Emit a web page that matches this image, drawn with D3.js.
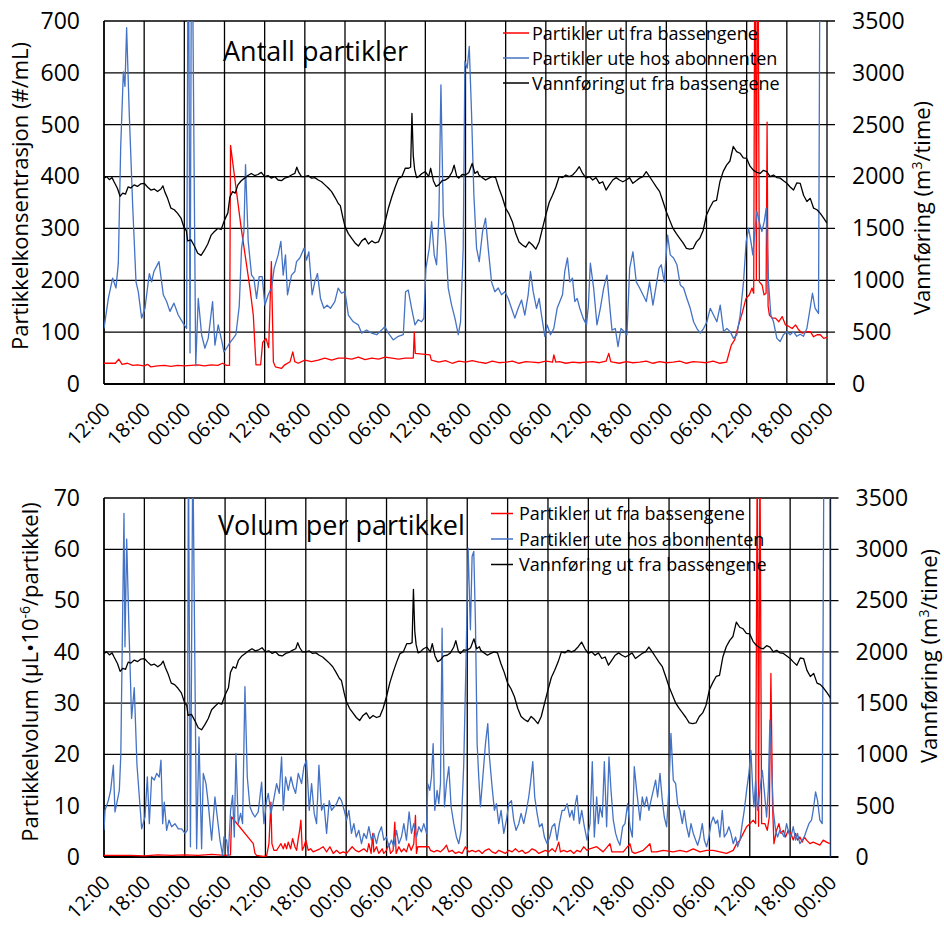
<!DOCTYPE html>
<html>
<head>
<meta charset="utf-8">
<script src="https://cdn.jsdelivr.net/npm/d3@7"></script>
<style>
  body { margin: 0; background: #fff; }
  svg { display: block; font-family: "Open Sans", sans-serif; }
</style>
</head>
<body>
<svg id="chart" width="944" height="927"></svg>
<script>
// ---- data (hours since first 12:00, value) ----
const hourTicks = d3.range(0, 109, 6);
const tickLabels = ["12:00","18:00","00:00","06:00","12:00","18:00","00:00","06:00","12:00","18:00",
                    "00:00","06:00","12:00","18:00","00:00","06:00","12:00","18:00","00:00"];
const countTicks = d3.range(0, 701, 100);
const volumeTicks = d3.range(0, 71, 10);
const flowTicks = d3.range(0, 3501, 500);

const seriesNames = ["Partikler ut fra bassengene", "Partikler ute hos abonnenten", "Vannføring ut fra bassengene"];

// Vannføring ut fra bassengene (m3/time), same in both panels
const flow = [[0,1985],[0.4,2000],[0.8,1970],[1.2,1990],[1.5,1950],[2,1887],[2.4,1810],[2.8,1840],[3.2,1830],
  [3.6,1900],[4,1890],[4.5,1920],[5,1905],[5.5,1930],[6,1935],[6.5,1900],[7,1870],[7.5,1880],[8,1855],[8.5,1880],
  [8.8,1910],[9.1,1850],[9.5,1790],[10,1695],[10.5,1680],[11,1645],[11.5,1600],[12,1500],[12.3,1480],[12.5,1380],
  [13,1390],[13.5,1330],[14,1260],[14.5,1240],[15,1290],[15.5,1350],[16,1435],[16.5,1470],[17,1500],[17.5,1490],
  [18,1580],[18.5,1650],[18.8,1800],[19.2,1855],[19.6,1840],[20,1920],[20.5,1960],[21,1985],[21.5,2010],[22,2030],
  [22.5,2010],[23,2020],[23.5,2040],[24,2000],[24.5,2010],[25,1985],[25.5,2000],[26,1967],[26.5,1960],[27,1985],
  [27.5,1995],[28,2015],[28.5,2030],[28.8,2090],[29.1,2040],[29.5,2000],[30,2000],[30.5,2010],[31,1985],[31.5,1990],
  [32,1967],[32.5,1950],[33,1920],[33.5,1890],[34,1855],[34.5,1800],[35,1740],[35.3,1720],[35.7,1600],[36,1520],
  [36.5,1450],[37,1405],[37.5,1360],[38,1330],[38.5,1380],[39,1405],[39.5,1350],[40,1380],[40.5,1360],[41,1370],
  [41.5,1450],[42,1565],[42.5,1700],[43,1805],[43.5,1900],[44,1983],[44.5,2000],[45,2080],[45.5,2080],[45.8,2090],
  [46,2610],[46.2,2200],[46.4,2070],[46.7,1990],[47,2000],[47.5,2030],[48,2047],[48.5,2000],[48.8,2080],[49.2,1960],
  [49.6,1905],[50,1920],[50.5,1960],[51,1967],[51.5,1990],[52,2047],[52.3,2110],[52.7,2000],[53,1985],[53.5,2020],
  [54,2015],[54.5,2040],[55,2127],[55.4,2030],[55.8,2050],[56,2015],[56.5,1990],[57,1967],[57.5,1985],[58,2000],
  [58.5,1990],[59,1887],[59.5,1800],[60,1695],[60.5,1640],[61,1565],[61.5,1450],[62,1370],[62.5,1340],[63,1320],
  [63.5,1370],[64,1340],[64.5,1300],[65,1370],[65.5,1500],[66,1630],[66.5,1750],[67,1820],[67.5,1900],[68,2000],
  [68.5,1990],[69,2015],[69.5,2000],[70,2015],[70.5,2050],[71,2095],[71.5,2030],[72,1985],[72.5,2000],[73,1967],
  [73.5,1990],[74,1935],[74.5,1950],[75,1870],[75.5,1920],[76,1967],[76.5,1990],[77,1967],[77.5,1950],[78,1967],
  [78.5,1990],[79,1935],[79.5,1960],[80,1985],[80.5,2000],[81,2047],[81.5,2000],[82,1950],[82.5,1900],[83,1855],
  [83.5,1760],[84,1660],[84.5,1580],[85,1500],[85.5,1450],[86,1405],[86.5,1360],[87,1307],[87.5,1300],[88,1307],
  [88.5,1370],[89,1405],[89.5,1480],[90,1630],[90.5,1700],[91,1760],[91.5,1770],[92,1950],[92.5,2050],[93,2110],
  [93.5,2150],[94,2290],[94.5,2240],[95,2225],[95.5,2180],[96,2175],[96.5,2100],[97,2062],[97.5,2040],[98,2030],
  [98.5,2060],[99,2047],[99.5,2000],[100,2015],[100.5,1990],[101,1985],[101.5,1960],[102,1935],[102.5,1900],
  [103,1870],[103.5,1940],[104,1935],[104.5,1820],[105,1760],[105.5,1790],[106,1695],[106.5,1680],[107,1645],
  [107.5,1600],[108,1550]];

// Antall partikler (#/mL) ut fra bassengene
const countOut = [[0,40],[1,40],[1.7,40],[2.2,48],[2.7,38],[3.5,40],[4.3,36],[5,37],[6,35],[6.5,38],[7,33],[8,35],
  [9,36],[10,34],[11,36],[12,35],[13,36],[14,37],[15,35],[16,37],[17,36],[17.7,40],[18.3,36],[18.75,36],[18.9,460],
  [20.5,300],[21.8,185],[22.3,133],[22.7,37],[23.4,37],[23.7,80],[24.2,88],[24.6,70],[25.0,236],[25.3,43],[25.6,33],
  [26.5,30],[27,37],[27.8,43],[28.2,62],[28.5,43],[29,40],[30,46],[31,43],[32,46],[33,50],[34,46],[35,50],[36,50],
  [37,48],[38,52],[39,47],[40,50],[41,48],[42,52],[43,50],[44,48],[45,50],[46.2,50],[46.35,100],[46.5,59],[48.7,56],
  [48.9,46],[50,42],[51,45],[52,40],[53,44],[54,42],[55,45],[56,42],[57,40],[58,44],[59,41],[60,42],[61,44],[62,40],
  [63,43],[64,42],[65,41],[66,44],[67,42],[67.2,56],[67.5,42],[68,43],[69,40],[70,42],[71,41],[72,42],[73,43],[74,41],
  [75,44],[75.4,59],[75.7,43],[76,42],[77,40],[78,43],[79,41],[80,42],[81,44],[82,40],[83,43],[84,41],[85,42],[86,44],
  [87,40],[88,43],[89,42],[90,41],[91,44],[92,40],[93,42],[93.7,75],[94.2,85],[94.8,114],[95.4,140],[95.9,165],
  [96.4,172],[96.8,185],[97.05,175],[97.25,1000],[97.45,200],[97.65,1000],[97.9,197],[98.3,191],[98.6,172],[98.9,175],
  [99.05,505],[99.2,150],[99.4,133],[99.8,127],[100.3,127],[100.8,120],[101.3,130],[101.8,114],[102.3,111],[102.8,107],
  [103.3,114],[103.8,104],[104.3,98],[105,101],[105.5,101],[106,91],[106.5,95],[107,95],[107.5,88],[108,90]];

// Antall partikler (#/mL) ute hos abonnenten
const countSub = [[0,107],[0.65,165],[1.29,204],[1.79,185],[2.14,233],[2.49,455],[2.89,602],[3.13,574],[3.38,687],
  [3.78,519],[4.28,345],[4.78,197],[5.12,178],[5.62,127],[6.12,146],[6.77,213],[7.11,197],[7.46,217],[8.21,236],
  [8.86,172],[9.35,159],[9.85,140],[10.45,156],[11.09,133],[11.84,117],[12.34,107],[12.6,1000],[12.85,60],[13.1,1000],
  [13.7,35],[14.08,165],[14.58,95],[15.07,69],[15.57,88],[16.22,159],[16.57,75],[17.06,114],[17.56,85],[17.91,62],
  [18.31,69],[18.71,78],[19.3,88],[19.7,95],[20.2,150],[20.55,262],[20.9,294],[21.14,423],[21.54,275],[22.04,210],
  [22.39,204],[22.79,165],[23.18,207],[23.63,207],[24.03,152],[24.53,172],[25.02,185],[25.42,223],[26.02,249],
  [26.42,275],[26.77,210],[27.11,249],[27.41,172],[28.01,210],[28.51,217],[28.76,236],[29.25,243],[29.9,262],
  [30.25,239],[30.6,255],[31.09,172],[31.49,197],[31.89,213],[32.34,165],[32.84,146],[33.33,152],[33.83,146],
  [34.48,159],[34.98,185],[35.47,175],[36.0,178],[36.5,133],[37.24,120],[37.99,114],[38.49,98],[39.23,104],[39.98,98],
  [40.73,95],[41.47,104],[41.97,111],[42.47,98],[43.21,85],[43.96,92],[44.71,95],[45.05,178],[45.45,181],[45.95,146],
  [46.45,114],[46.94,124],[47.44,120],[47.79,127],[48.09,223],[48.59,262],[48.94,313],[49.33,249],[49.68,230],
  [50.03,326],[50.33,577],[50.68,326],[51.07,268],[51.42,185],[51.92,152],[52.42,127],[52.92,95],[53.26,120],
  [53.66,262],[53.91,622],[54.26,609],[54.56,651],[54.91,519],[55.25,365],[55.65,262],[56.05,236],[56.55,294],
  [56.99,320],[57.39,262],[57.89,197],[58.39,178],[58.89,185],[59.38,172],[59.88,178],[60.38,165],[60.87,146],
  [61.37,127],[61.87,146],[62.37,162],[62.86,133],[63.36,172],[63.71,217],[64.11,178],[64.61,146],[65.0,165],
  [65.35,133],[65.85,92],[66.2,114],[66.7,95],[67.19,107],[67.69,146],[68.09,159],[68.49,172],[68.83,217],[69.23,243],
  [69.58,197],[69.98,204],[70.33,159],[70.68,165],[71.07,146],[71.57,127],[72.07,114],[72.35,150],[72.65,233],
  [73.14,185],[73.64,114],[74.14,146],[74.64,185],[75.13,210],[75.53,152],[75.88,104],[76.38,107],[76.78,72],
  [77.22,107],[77.72,101],[78.12,95],[78.52,223],[79.01,255],[79.51,197],[80.01,185],[80.51,172],[81.0,159],[81.5,197],
  [82.0,152],[82.5,191],[82.9,223],[83.24,230],[83.69,197],[84.19,287],[84.59,249],[85.08,243],[85.58,230],[86.08,191],
  [86.58,185],[87.07,165],[87.57,146],[88.07,120],[88.57,107],[89.06,98],[89.56,107],[90.06,120],[90.56,146],
  [91.05,133],[91.55,120],[92.05,152],[92.55,101],[93.04,107],[93.54,101],[94.04,88],[94.54,95],[95.03,133],
  [95.53,197],[95.93,275],[96.28,300],[96.63,275],[96.92,249],[97.27,300],[97.52,333],[97.87,313],[98.27,294],
  [98.62,313],[98.92,339],[99.26,197],[99.61,133],[100.01,120],[100.51,88],[101.0,82],[101.5,95],[102.0,101],
  [102.5,95],[102.99,101],[103.49,92],[103.99,96],[104.49,92],[104.99,107],[105.48,146],[105.83,175],[106.23,146],
  [106.73,136],[107.0,1000],[107.85,1000],[108,1000]];

// Volum per partikkel (µL·10^-6/partikkel) ut fra bassengene
const volumeOut = [[0,0.3],[2,0.3],[4,0.3],[6,0.2],[8,0.4],[10,0.3],[12,0.4],[14,0.3],[16,0.5],[18,0.3],[18.8,0.4],
  [18.97,7.8],[22.19,2.6],[22.44,0.7],[22.68,0.3],[23.67,0.1],[24.17,0.2],[24.52,2.6],[24.81,10.7],[24.96,2.6],
  [25.26,1.3],[25.66,1.3],[26.0,2.0],[26.3,2.6],[26.65,1.6],[26.89,2.6],[27.14,1.6],[27.39,2.9],[27.74,1.6],[28.03,3.6],
  [28.38,2.0],[28.63,1.3],[28.88,3.6],[29.12,5.5],[29.27,7.2],[29.47,1.3],[29.72,2.0],[30.01,3.3],[30.36,1.3],
  [30.71,1.6],[31.1,1.0],[31.6,1.3],[32.1,1.6],[32.59,2.0],[33.09,1.0],[33.58,2.0],[34.08,0.7],[34.57,1.3],[35.07,0.7],
  [35.56,1.0],[36.06,0.7],[36.89,2.0],[37.39,1.3],[37.88,1.0],[38.63,1.6],[39.12,1.0],[39.37,2.6],[39.71,0.7],
  [39.96,4.6],[40.11,1.0],[40.51,2.0],[40.85,0.7],[41.35,1.6],[41.6,0.7],[41.99,1.3],[42.34,2.6],[42.59,0.7],
  [42.98,1.3],[43.23,6.8],[43.43,0.7],[43.83,2.0],[44.22,1.0],[44.57,1.6],[44.96,1.0],[45.31,2.6],[45.66,1.3],
  [46.05,2.6],[46.3,8.1],[46.45,0.7],[46.65,2.0],[48.28,2.0],[48.53,1.3],[49.03,1.0],[49.52,1.3],[50.02,1.0],
  [50.51,1.6],[50.91,2.3],[51.26,1.0],[51.75,1.3],[52.25,0.7],[52.74,1.0],[53.24,0.7],[53.73,2.0],[54.23,1.0],
  [54.72,1.3],[55.22,1.0],[55.71,1.3],[56.21,0.7],[56.7,1.3],[57.2,1.6],[57.69,1.0],[58.19,0.7],[58.68,1.3],
  [59.18,1.0],[59.67,0.7],[60.17,1.3],[60.67,1.0],[61.16,1.6],[61.66,1.0],[62.15,1.3],[62.65,0.7],[63.14,1.0],
  [63.64,1.6],[64.13,1.3],[64.63,0.7],[65.12,1.0],[65.62,1.3],[66.11,1.0],[66.61,1.6],[67.1,1.0],[67.6,2.9],
  [67.85,1.0],[68.34,1.3],[68.84,1.0],[69.33,1.3],[69.83,0.7],[70.32,1.3],[70.82,1.0],[71.31,2.0],[71.81,1.3],
  [72.21,1.6],[73.24,2.0],[74.2,1.0],[75.22,2.6],[75.5,1.0],[76.21,1.0],[77.2,1.0],[78.19,2.6],[78.5,1.0],[78.93,0.7],
  [80.17,1.3],[81.16,2.6],[81.4,1.0],[82.15,1.0],[83.14,1.3],[84.63,1.0],[85.62,1.3],[86.61,1.0],[87.6,1.6],
  [88.59,1.0],[89.58,1.3],[90.57,1.3],[91.56,1.0],[92.55,0.7],[93.54,1.3],[94.04,2.6],[94.54,3.3],[95.03,4.6],
  [95.53,5.9],[96.02,6.5],[96.52,7.2],[96.87,6.5],[97.11,80],[97.31,6.0],[97.51,80],[97.76,6.5],[98.25,6.5],
  [98.6,5.2],[98.9,7.8],[99.14,35.8],[99.39,9.8],[99.59,2.6],[99.98,5.2],[100.33,6.5],[100.63,4.6],[100.98,5.2],
  [101.32,3.9],[101.72,5.2],[102.11,4.6],[102.46,3.3],[102.81,4.6],[103.1,3.3],[103.45,3.9],[103.8,2.9],[104.1,3.9],
  [104.44,3.3],[104.94,2.6],[105.43,2.9],[105.93,2.6],[106.42,2.3],[106.92,3.3],[107.41,2.9],[107.91,2.6]];

// Volum per partikkel ute hos abonnenten
const volumeSub = [[0,5.2],[0.15,9.1],[0.64,11],[0.99,13],[1.39,17.9],[1.63,8.8],[1.98,11],[2.28,13],[2.5,20],
  [2.97,67],[3.12,41],[3.37,62],[3.7,45],[4.1,27],[4.5,33],[4.9,18],[5.35,10],[5.6,5.5],[6.09,7.8],[6.44,15.6],
  [6.74,6.5],[7.08,15.6],[7.48,15],[7.83,16.3],[8.22,15.6],[8.47,18.9],[8.72,6.5],[8.96,10.7],[9.31,5.2],[9.66,7.2],
  [10.05,5.9],[10.55,6.5],[11.04,5.5],[11.54,5.5],[12.04,4.6],[12.38,5.2],[12.55,80],[12.85,2],[13.2,80],[13.77,1.6],
  [14.12,23.4],[14.51,1.6],[14.76,16.3],[15.16,14.3],[15.5,10.4],[16.0,3.3],[16.49,11.7],[16.84,7.8],[17.24,3.3],
  [17.63,0.3],[17.83,3.9],[18.23,3.3],[18.47,0.2],[18.82,9.1],[19.12,12],[19.37,3.9],[19.61,20.2],[19.96,6.5],
  [20.31,8.5],[20.6,6.5],[20.95,33.2],[21.3,15.6],[21.69,9.8],[22.09,8.5],[22.44,7.8],[22.93,8.8],[23.43,14.6],
  [23.77,6.5],[24.17,11],[24.42,12.4],[24.81,8.5],[25.16,10.7],[25.66,14.3],[26.05,12.4],[26.4,19.5],[26.65,9.1],
  [26.99,15.6],[27.39,13],[27.79,15.6],[28.13,13.7],[28.48,12.4],[28.88,16.3],[29.37,14.3],[29.72,17.6],[30.11,18.9],
  [30.51,9.1],[30.86,14.3],[31.25,8.5],[31.6,6.5],[31.95,17.9],[32.34,9.1],[32.69,10.4],[33.09,4.6],[33.48,11],
  [33.83,9.1],[34.23,9.8],[34.57,10.4],[34.97,11.7],[35.31,11],[35.71,9.1],[36.06,7.2],[36.4,9.1],[36.79,4.6],
  [37.14,6.5],[37.49,3.9],[37.88,5.2],[38.28,2.6],[38.63,4.6],[39.02,3.6],[39.37,5.9],[39.76,3.3],[40.11,4.6],
  [40.51,2.6],[40.85,4.6],[41.25,5.9],[41.6,3.3],[41.99,3.9],[42.34,2],[42.74,3.3],[43.08,2],[43.48,5.2],[43.83,2.6],
  [44.22,3.9],[44.57,6.5],[44.96,3.3],[45.36,8.8],[45.71,4.6],[46.05,6.5],[46.45,3.9],[46.8,5.9],[47.19,4.9],
  [47.54,6.5],[47.94,4.6],[48.13,14.3],[48.43,13],[48.68,15.6],[48.93,22.1],[49.17,9.1],[49.52,13],[49.77,10.4],
  [50.02,14.3],[50.26,44.6],[50.41,26],[50.61,9.8],[50.91,14.3],[51.26,17.6],[51.6,9.8],[52.0,6.5],[52.39,3.9],
  [52.74,2.6],[53.09,5.2],[53.48,18.2],[53.83,39],[54.13,60.2],[54.47,44.3],[54.72,58.6],[54.97,59.6],[55.22,45.6],
  [55.47,22.1],[55.71,15.6],[55.96,9.8],[56.36,16.3],[56.71,22.1],[57.05,26],[57.3,19.5],[57.69,13.7],[58.04,9.1],
  [58.34,10.4],[58.68,6.5],[59.03,9.1],[59.43,4.6],[59.82,7.2],[60.17,10.4],[60.57,11],[60.91,7.2],[61.26,5.2],
  [61.66,6.5],[62.0,8.5],[62.4,6.5],[62.8,9.1],[63.14,11.7],[63.39,14.3],[63.74,18.6],[64.03,11.7],[64.38,8.5],
  [64.73,5.9],[65.12,6.5],[65.47,3.9],[65.87,2.6],[66.26,3.9],[66.61,5.9],[67.0,6.5],[67.35,3.3],[67.7,6.5],[68.1,9.1],
  [68.44,9.1],[68.84,10.4],[69.23,7.8],[69.58,9.1],[69.83,7.2],[70.08,10.4],[70.32,12],[70.67,6.5],[71.02,9.1],
  [71.41,5.9],[71.81,3.3],[72.25,6.5],[72.59,18.6],[72.89,3.9],[73.24,11.7],[73.49,6.5],[73.73,9.8],[74.08,7.8],
  [74.38,18.6],[74.72,5.9],[75.07,19.5],[75.37,13],[75.71,7.2],[76.06,4.6],[76.36,3.3],[76.71,2.3],[77.1,5.9],
  [77.45,6.5],[77.84,10.4],[78.19,5.9],[78.54,3.9],[78.83,17.6],[79.18,13],[79.68,7.2],[80.02,11.7],[80.32,9.8],
  [80.67,11.7],[81.01,9.1],[81.31,11],[81.66,13],[82.0,15],[82.3,11.7],[82.65,16.3],[83.0,11],[83.29,7.8],[83.64,5.9],
  [83.99,13.7],[84.28,24.1],[84.63,15],[84.98,14.3],[85.27,10.4],[85.62,9.1],[85.97,6.5],[86.26,9.1],[86.61,5.9],
  [86.96,3.9],[87.26,6.5],[87.6,4.6],[87.95,3.3],[88.25,2.3],[88.59,3.9],[88.94,6.5],[89.24,3.3],[89.58,2],[89.93,3.9],
  [90.23,6.5],[90.57,7.8],[90.92,6.5],[91.22,7.2],[91.56,3.9],[91.91,9.1],[92.21,3.9],[92.55,4.6],[92.9,5.9],[93.2,4.6],
  [93.54,2.6],[93.89,3.9],[94.19,2],[94.54,3.3],[94.88,6.5],[95.18,9.1],[95.53,13],[95.87,16.3],[96.17,20.8],
  [96.42,13.7],[96.62,9.8],[96.87,15],[97.16,9.1],[97.51,13],[97.86,16.9],[98.15,13],[98.5,7.8],[98.75,13],[98.99,26.7],
  [99.24,18.2],[99.49,9.1],[99.84,5.2],[100.13,3.9],[100.48,5.2],[100.83,4.6],[101.12,3.9],[101.47,6.5],[101.82,4.6],
  [102.11,3.9],[102.46,5.9],[102.81,3.3],[103.1,4.6],[103.45,2.6],[103.8,3.3],[104.1,3.9],[104.44,5.2],[104.79,6.5],
  [105.18,7.2],[105.43,9.1],[105.78,12.7],[106.08,11],[106.42,7.2],[106.77,6.5],[107.02,80],[107.9,80],[108,0]];

const colors = ["#ff0000", "#4472c4", "#000000"];

// ---- drawing ----
const svg = d3.select("#chart");
const fontFamily = "'Open Sans', sans-serif";

function drawPanel(p) {
  const x = d3.scaleLinear().domain([0, 108]).range([p.left, p.right]);
  const yL = d3.scaleLinear().domain([0, p.leftTicks[p.leftTicks.length - 1]]).range([p.bottom, p.top]);
  const yR = d3.scaleLinear().domain([0, 3500]).range([p.bottom, p.top]);

  const g = svg.append("g");

  svg.append("clipPath").attr("id", "clip-" + p.id)
    .append("rect")
    .attr("x", p.left).attr("y", p.top)
    .attr("width", p.right - p.left).attr("height", p.bottom - p.top);

  // grid (horizontal lines run out past the right edge as tick marks)
  g.append("g").selectAll("line").data(p.leftTicks).join("line")
    .attr("x1", p.left).attr("x2", p.right + 8)
    .attr("y1", d => yL(d)).attr("y2", d => yL(d))
    .attr("stroke", "#000").attr("stroke-width", d => d === 0 ? 1.8 : 1.3);
  g.append("g").selectAll("line").data(hourTicks).join("line")
    .attr("x1", d => x(d)).attr("x2", d => x(d))
    .attr("y1", p.top).attr("y2", p.bottom)
    .attr("stroke", "#000").attr("stroke-width", d => d === 0 ? 1.8 : 1.3);

  // series
  const lineL = d3.line().x(d => x(d[0])).y(d => yL(d[1]));
  const lineR = d3.line().x(d => x(d[0])).y(d => yR(d[1]));
  const data = g.append("g").attr("clip-path", `url(#clip-${p.id})`)
    .attr("fill", "none").attr("stroke-width", 1.3).attr("stroke-linejoin", "round");
  data.append("path").attr("d", lineL(p.out)).attr("stroke", colors[0]);
  data.append("path").attr("d", lineL(p.sub)).attr("stroke", colors[1]);
  data.append("path").attr("d", lineR(flow)).attr("stroke", colors[2]);

  // axes
  g.append("g").attr("transform", `translate(${p.left},0)`)
    .call(d3.axisLeft(yL).tickValues(p.leftTicks).tickFormat(d3.format("d")).tickSize(0).tickPadding(24))
    .call(a => a.select(".domain").remove())
    .call(a => a.selectAll("text").attr("font-size", 23).attr("fill", "#000").attr("font-family", fontFamily));

  g.append("g").attr("transform", `translate(${p.right},0)`)
    .call(d3.axisRight(yR).tickValues(flowTicks).tickFormat(d3.format("d")).tickSize(0).tickPadding(25))
    .call(a => a.select(".domain").remove())
    .call(a => a.selectAll("text").attr("font-size", 23).attr("fill", "#000").attr("font-family", fontFamily));

  g.append("g").attr("transform", `translate(0,${p.bottom})`)
    .call(d3.axisBottom(x).tickValues(hourTicks).tickFormat((d, i) => tickLabels[i]).tickSize(0))
    .call(a => a.select(".domain").remove())
    .call(a => a.selectAll("text")
      .attr("y", 0).attr("dy", "0.35em")
      .attr("text-anchor", "end")
      .attr("transform", `translate(2,${p.labelDrop}) rotate(-45)`)
      .attr("font-size", 20).attr("fill", "#000").attr("font-family", fontFamily));

  // title inside plot
  g.append("text").attr("x", p.titleX).attr("y", p.titleY)
    .attr("font-size", 27).text(p.title);

  // legend
  const leg = g.append("g");
  seriesNames.forEach((name, i) => {
    const ly = p.legY + i * p.legStep;
    leg.append("line").attr("x1", p.legX).attr("x2", p.legX + p.legLine)
      .attr("y1", ly).attr("y2", ly).attr("stroke", colors[i]).attr("stroke-width", 1.5);
    leg.append("text").attr("x", p.legX + p.legLine + p.legGap).attr("y", ly + 6.5)
      .attr("font-size", 18).text(name);
  });

  // axis titles
  const lt = g.append("text").attr("transform", `translate(${p.leftTitleX},${p.leftTitleY}) rotate(-90)`)
    .attr("text-anchor", "middle").attr("font-size", 22);
  p.leftTitle(lt);
  const rt = g.append("text").attr("transform", `translate(${p.rightTitleX},${p.rightTitleY}) rotate(-90)`)
    .attr("text-anchor", "middle").attr("font-size", 22);
  rt.append("tspan").text("Vannføring (m");
  rt.append("tspan").attr("font-size", 14).attr("dy", -8).text("3");
  rt.append("tspan").attr("dy", 8).text("/time)");
}

drawPanel({
  id: "count", left: 104, right: 827, top: 21, bottom: 384,
  leftTicks: countTicks, out: countOut, sub: countSub, labelDrop: 22,
  title: "Antall partikler", titleX: 223, titleY: 61,
  legX: 503, legY: 33, legStep: 25, legLine: 26, legGap: 3,
  leftTitleX: 28, leftTitleY: 196,
  leftTitle: t => t.text("Partikkelkonsentrasjon (#/mL)"),
  rightTitleX: 930, rightTitleY: 208
});

drawPanel({
  id: "volume", left: 104, right: 830.5, top: 498, bottom: 857,
  leftTicks: volumeTicks, out: volumeOut, sub: volumeSub, labelDrop: 22,
  title: "Volum per partikkel", titleX: 218, titleY: 535,
  legX: 491, legY: 513.5, legStep: 25.5, legLine: 22, legGap: 6,
  leftTitleX: 38, leftTitleY: 672,
  leftTitle: t => {
    t.append("tspan").text("Partikkelvolum (µL•10");
    t.append("tspan").attr("font-size", 14).attr("dy", -8).text("-6");
    t.append("tspan").attr("dy", 8).text("/partikkel)");
  },
  rightTitleX: 937, rightTitleY: 656
});
</script>
</body>
</html>
